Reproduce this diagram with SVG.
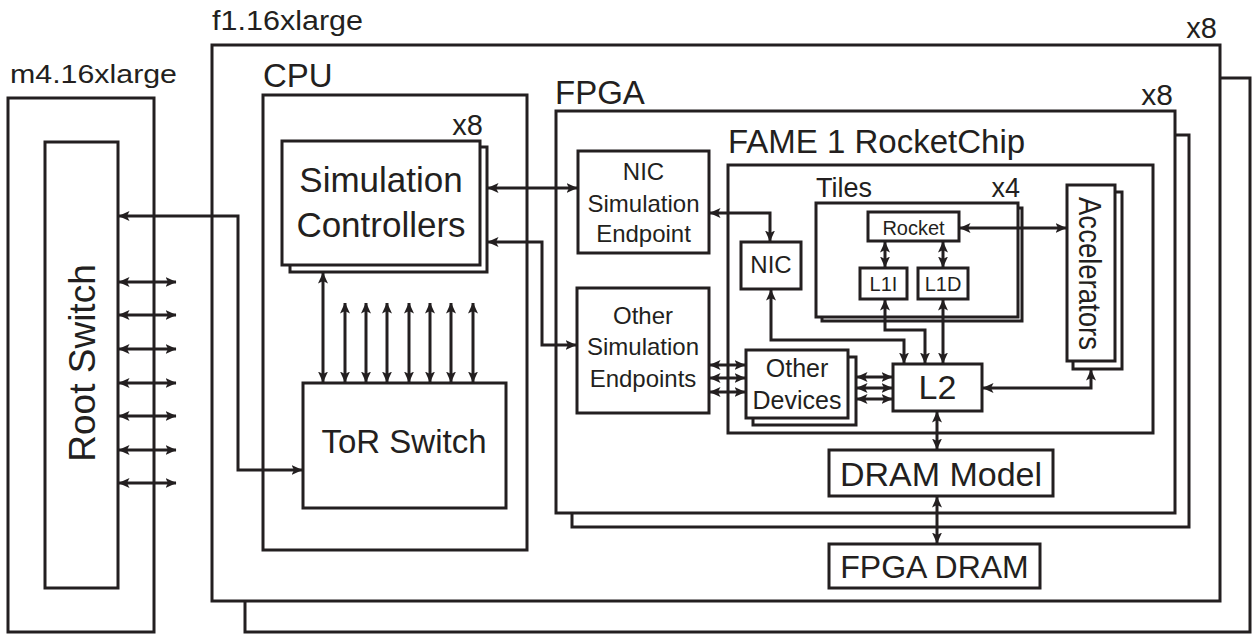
<svg xmlns="http://www.w3.org/2000/svg" width="1252" height="635" viewBox="0 0 1252 635">
<defs>
<marker id="ah" viewBox="0 0 11 10" refX="10.5" refY="5" markerWidth="11" markerHeight="10" markerUnits="userSpaceOnUse" orient="auto-start-reverse">
<path d="M0,0 L11,5 L0,10 L2.5,5 Z" fill="#231f20"/>
</marker>
</defs>
<style>
.b{fill:#fff;stroke:#231f20;stroke-width:3}
.t{font-family:"Liberation Sans",Arial,sans-serif;fill:#231f20}
.m{text-anchor:middle}
.e{text-anchor:end}
.c{fill:none;stroke:#231f20;stroke-width:3;marker-start:url(#ah);marker-end:url(#ah)}
</style>
<rect width="1252" height="635" fill="#fff"/>

<g id="f1">
<rect class="b" x="245" y="78" width="1005" height="554"/>
<rect class="b" x="212" y="45" width="1008" height="556"/>
<text class="t" x="212" y="30" font-size="27" textLength="151" lengthAdjust="spacingAndGlyphs">f1.16xlarge</text>
<text class="t e" x="1217" y="38" font-size="29">x8</text>
</g>

<g id="m4">
<rect class="b" x="8" y="98" width="146" height="534"/>
<text class="t" x="10" y="83" font-size="26" textLength="167" lengthAdjust="spacingAndGlyphs">m4.16xlarge</text>
</g>

<g id="rootswitch">
<rect class="b" x="45" y="142" width="73" height="446"/>
<text class="t m" transform="translate(95,363) rotate(-90)" font-size="37">Root Switch</text>
</g>

<g id="cpu">
<rect class="b" x="263" y="95" width="264" height="455"/>
<text class="t" x="263" y="87" font-size="33">CPU</text>
</g>

<g id="simctrl">
<rect class="b" x="290" y="147" width="197" height="125"/>
<rect class="b" x="282" y="141" width="198" height="124"/>
<text class="t e" x="483" y="135" font-size="29">x8</text>
<text class="t m" x="381" y="192" font-size="35">Simulation</text>
<text class="t m" x="381" y="237" font-size="35">Controllers</text>
</g>

<g id="tor">
<rect class="b" x="303" y="383" width="203" height="125"/>
<text class="t m" x="404" y="453" font-size="33">ToR Switch</text>
</g>

<g id="fpga">
<rect class="b" x="572" y="135" width="617" height="392"/>
<rect class="b" x="556" y="111" width="619" height="402"/>
<text class="t" x="555" y="104" font-size="33">FPGA</text>
<text class="t e" x="1173" y="105" font-size="30">x8</text>
</g>

<g id="nicsim">
<rect class="b" x="578" y="151" width="131" height="102"/>
<text class="t m" x="643.5" y="180" font-size="24">NIC</text>
<text class="t m" x="643.5" y="212" font-size="24">Simulation</text>
<text class="t m" x="643.5" y="242" font-size="24">Endpoint</text>
</g>

<g id="othersim">
<rect class="b" x="577" y="288" width="132" height="125"/>
<text class="t m" x="643" y="324" font-size="24">Other</text>
<text class="t m" x="643" y="355" font-size="24">Simulation</text>
<text class="t m" x="643" y="387" font-size="24">Endpoints</text>
</g>

<g id="fame">
<rect class="b" x="728" y="165" width="425" height="268"/>
<text class="t" x="728" y="153" font-size="33">FAME 1 RocketChip</text>
</g>

<g id="nic">
<rect class="b" x="741" y="242" width="60" height="47"/>
<text class="t m" x="771" y="273" font-size="24">NIC</text>
</g>

<g id="tiles">
<rect class="b" x="822" y="208" width="200" height="113"/>
<rect class="b" x="816" y="203" width="202" height="114"/>
<text class="t" x="816" y="197" font-size="27">Tiles</text>
<text class="t e" x="1020" y="197" font-size="27">x4</text>
</g>

<g id="rocket">
<rect class="b" x="868" y="212" width="91" height="29"/>
<text class="t m" x="913.5" y="235" font-size="20">Rocket</text>
</g>

<g id="l1i">
<rect class="b" x="860" y="268" width="47" height="31"/>
<text class="t m" x="883.5" y="291" font-size="20">L1I</text>
</g>

<g id="l1d">
<rect class="b" x="918" y="268" width="50" height="31"/>
<text class="t m" x="943" y="291" font-size="20">L1D</text>
</g>

<g id="accel">
<rect class="b" x="1073" y="192" width="49" height="177"/>
<rect class="b" x="1067" y="185" width="48" height="176"/>
<text class="t m" transform="translate(1079,273.5) rotate(90)" font-size="31" textLength="153" lengthAdjust="spacingAndGlyphs">Accelerators</text>
</g>

<g id="otherdev">
<rect class="b" x="753" y="357" width="103" height="68"/>
<rect class="b" x="746" y="350" width="102" height="68"/>
<text class="t m" x="797" y="377" font-size="25">Other</text>
<text class="t m" x="797" y="409" font-size="25">Devices</text>
</g>

<g id="l2">
<rect class="b" x="893" y="364" width="89" height="47"/>
<text class="t m" x="937.5" y="399" font-size="34">L2</text>
</g>

<g id="drammodel">
<rect class="b" x="829" y="450" width="224" height="46"/>
<text class="t m" x="941" y="486" font-size="34">DRAM Model</text>
</g>

<g id="fpgadram">
<rect class="b" x="829" y="544" width="211" height="44"/>
<text class="t m" x="934.5" y="578" font-size="32">FPGA DRAM</text>
</g>

<g id="connectors">
<path class="c" d="M119,216 H238 V470 H302"/>
<path class="c" d="M119,282 H176"/>
<path class="c" d="M119,315 H176"/>
<path class="c" d="M119,349 H176"/>
<path class="c" d="M119,383 H176"/>
<path class="c" d="M119,416 H176"/>
<path class="c" d="M119,450 H176"/>
<path class="c" d="M119,483 H176"/>
<path class="c" d="M488,188 H577"/>
<path class="c" d="M488,242 H542 V345 H576"/>
<path class="c" d="M323,273 V382"/>
<path class="c" d="M345,303 V382"/>
<path class="c" d="M366,303 V382"/>
<path class="c" d="M387,303 V382"/>
<path class="c" d="M409,303 V382"/>
<path class="c" d="M430,303 V382"/>
<path class="c" d="M451,303 V382"/>
<path class="c" d="M473,303 V382"/>
<path class="c" d="M710,213 H770 V241"/>
<path class="c" d="M771,290 V340 H904 V363"/>
<path class="c" d="M885,300 V330 H925 V363"/>
<path class="c" d="M943,300 V363"/>
<path class="c" d="M885,242 V267"/>
<path class="c" d="M943,242 V267"/>
<path class="c" d="M960,228 H1066"/>
<path class="c" d="M710,365 H745"/>
<path class="c" d="M710,378 H745"/>
<path class="c" d="M710,392 H745"/>
<path class="c" d="M857,377 H892"/>
<path class="c" d="M857,388 H892"/>
<path class="c" d="M857,399 H892"/>
<path class="c" d="M983,388 H1091 V370"/>
<path class="c" d="M937,412 V449"/>
<path class="c" d="M937,497 V543"/>
</g>
</svg>
